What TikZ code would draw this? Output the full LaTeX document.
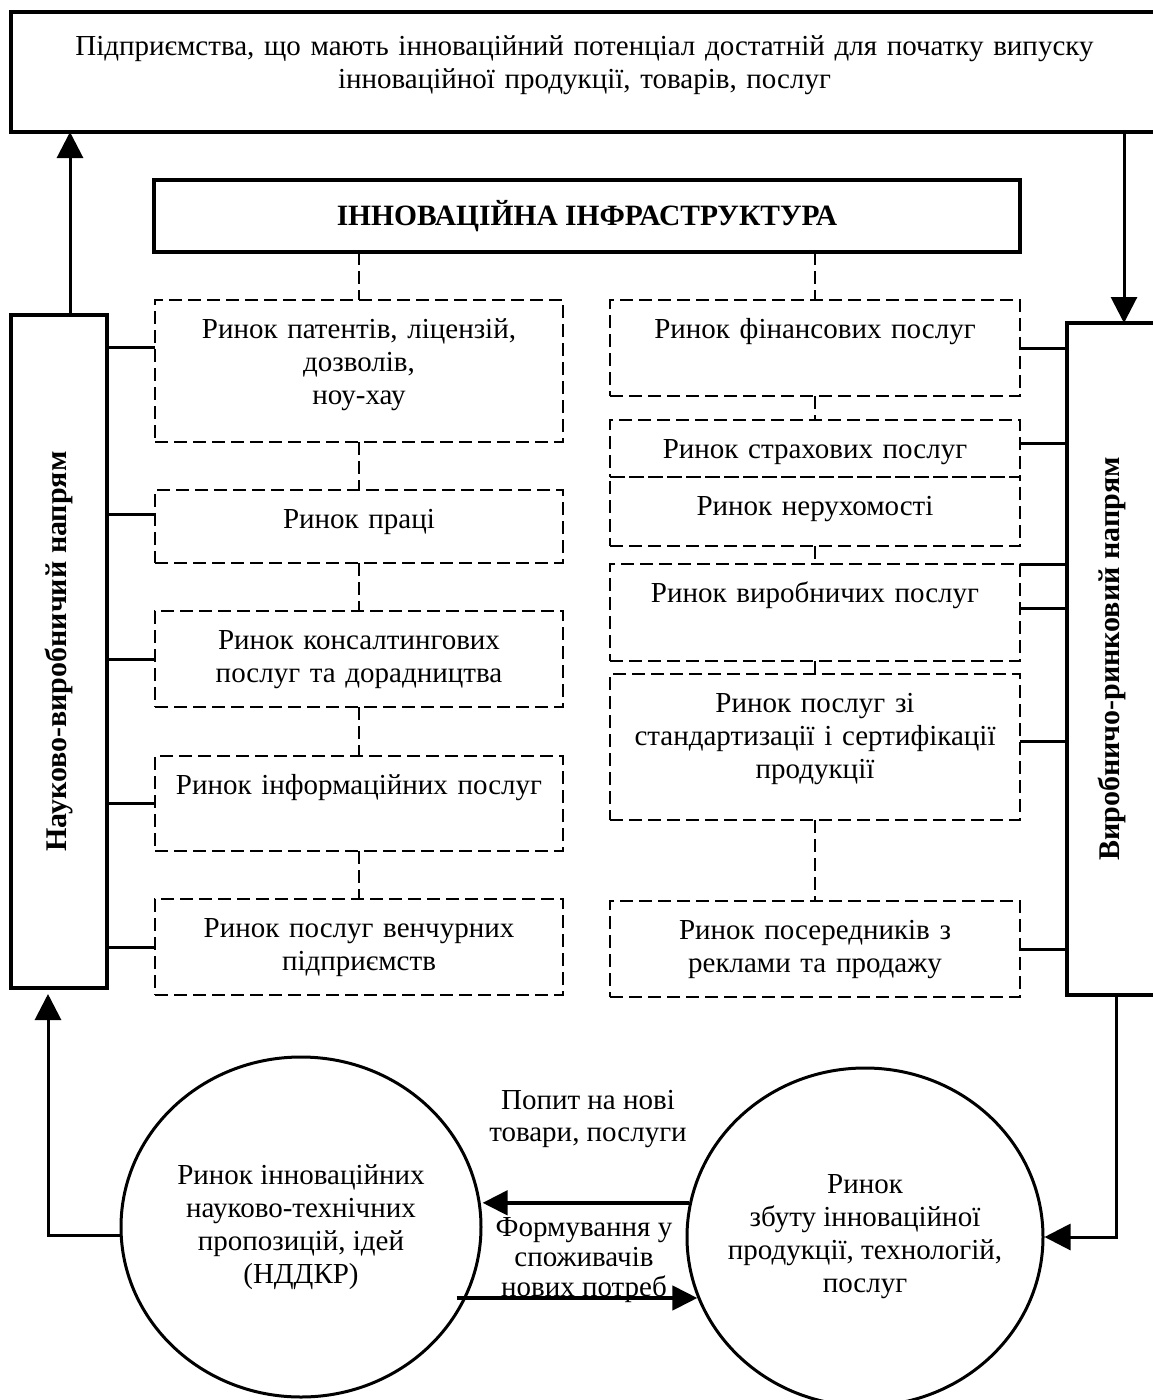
\documentclass[tikz,border=0pt]{standalone}
\usepackage{fontspec}
\setmainfont{Liberation Serif}
\usetikzlibrary{positioning,shapes.geometric,arrows.meta}

\begin{document}
\begin{tikzpicture}[x=1pt,y=-1pt,
    font=\fontsize{29}{33}\selectfont,
    thickbox/.style={rectangle, draw, line width=4.5pt, inner sep=0pt, outer sep=0pt},
    market/.style={rectangle, draw, line width=2.5pt, dash pattern=on 13pt off 6pt, inner sep=0pt, outer sep=0pt, align=center, text width=408pt, text height=38pt},
    rmarket/.style={market, text width=410pt},
    link/.style={line width=3pt},
    dlink/.style={line width=2.5pt, dash pattern=on 13pt off 6pt},
    arr/.style={line width=3pt, -{Triangle[length=26pt,width=26pt]}},
    fat/.style={line width=4.5pt, -{Triangle[length=25pt,width=24pt]}},
    idea/.style={ellipse, draw, line width=3pt, align=center, inner xsep=-18pt, inner ysep=0pt}]

    \useasboundingbox (0,0) rectangle (1152,1400);

    \node[thickbox, anchor=north west, align=center, text width=1147pt, text height=43pt, text depth=77pt] (firms) at (11,12) {Підприємства, що мають інноваційний потенціал достатній для початку випуску\\ інноваційної продукції, товарів, послуг};
    \node[thickbox, anchor=north west, minimum width=866pt, minimum height=72pt, font=\fontsize{29.5}{33}\selectfont\bfseries] (infra) at (154,180) {ІННОВАЦІЙНА ІНФРАСТРУКТУРА};

    \node[thickbox, anchor=north west, minimum width=96pt, minimum height=673pt] (sci) at (11,315) {\rotatebox{90}{\fontsize{30}{33}\selectfont\bfseries Науково-виробничий напрям}};
    \node[thickbox, anchor=north west, minimum width=89pt, minimum height=672pt] (prod) at (1067,323) {\rotatebox{90}{\fontsize{30}{33}\selectfont\bfseries Виробничо-ринковий напрям}};

    \node[market, anchor=north west, text depth=104pt] (pat) at (155,300) {Ринок патентів, ліцензій,\\ дозволів,\\ ноу-хау};
    \node[market, below=48pt of pat, text depth=35pt] (lab) {Ринок праці};
    \node[market, below=48pt of lab, text depth=58pt] (cons) {Ринок консалтингових\\ послуг та дорадництва};
    \node[market, below=49pt of cons, text depth=57pt] (info) {Ринок інформаційних послуг};
    \node[market, below=48pt of info, text depth=58pt] (vent) {Ринок послуг венчурних\\ підприємств};

    \node[rmarket, anchor=north west, text depth=58pt] (fin) at (610,300) {Ринок фінансових послуг};
    \node[rmarket, below=24pt of fin, text depth=19pt] (ins) {Ринок страхових послуг};
    \node[rmarket, below=0pt of ins, text depth=31pt] (est) {Ринок нерухомості};
    \node[rmarket, below=18pt of est, text depth=59pt] (serv) {Ринок виробничих послуг};
    \node[rmarket, below=13pt of serv, text depth=108pt] (std) {Ринок послуг зі\\ стандартизації і сертифікації\\ продукції};
    \node[rmarket, below=81pt of std, text depth=58pt] (med) {Ринок посередників з\\ реклами та продажу};

    \node[idea, minimum width=360pt, minimum height=340pt] (rnd) at (301,1227) {Ринок інноваційних\\ науково-технічних\\ пропозицій, ідей\\ (НДДКР)};
    \node[idea, minimum width=356pt, minimum height=338pt] (sales) at (865,1237) {Ринок\\ збуту інноваційної\\ продукції, технологій,\\ послуг};

    \node[align=center, font=\fontsize{29}{32}\selectfont] (demand) at (588,1119) {Попит на нові\\ товари, послуги};
    \node[align=center, font=\fontsize{29}{30}\selectfont] (needs) at (584,1260) {Формування у\\ споживачів\\ нових потреб};

    \draw[dlink] (infra.south -| pat.north) -- (pat.north);
    \draw[dlink] (pat) -- (lab);
    \draw[dlink] (lab) -- (cons);
    \draw[dlink] (cons) -- (info);
    \draw[dlink] (info) -- (vent);
    \draw[dlink] (infra.south -| fin.north) -- (fin.north);
    \draw[dlink] (fin) -- (ins);
    \draw[dlink] (est) -- (serv);
    \draw[dlink] (serv) -- (std);
    \draw[dlink] (std) -- (med);

    \draw[link] ([yshift=24pt]pat.west) -- ([yshift=24pt]pat.west -| sci.east);
    \draw[link] ([yshift=12pt]lab.west) -- ([yshift=12pt]lab.west -| sci.east);
    \draw[link] (cons.west) -- (cons.west -| sci.east);
    \draw[link] (info.west) -- (info.west -| sci.east);
    \draw[link] (vent.west) -- (vent.west -| sci.east);

    \draw[link] (fin.east) -- (fin.east -| prod.west);
    \draw[link] ([yshift=5pt]ins.east) -- ([yshift=5pt]ins.east -| prod.west);
    \draw[link] (serv.north east) -- (serv.north east -| prod.west);
    \draw[link] ([yshift=4pt]serv.east) -- ([yshift=4pt]serv.east -| prod.west);
    \draw[link] ([yshift=6pt]std.east) -- ([yshift=6pt]std.east -| prod.west);
    \draw[link] (med.east) -- (med.east -| prod.west);

    \draw[arr] ([xshift=11pt]sci.north) -- ([xshift=11pt]sci.north |- firms.south);
    \draw[arr] ([xshift=12.5pt]prod.north |- firms.south) -- ([xshift=12.5pt]prod.north);
    \draw[arr, shorten >=6pt] ([yshift=-8pt]rnd.west) -| ([xshift=-11pt]sci.south);
    \draw[arr] ([xshift=5pt]prod.south) |- (sales.east);

    \draw[fat] (sales.169) -- (sales.169 -| rnd.east);
    \draw[fat] ([xshift=-26pt]sales.200 -| rnd.east) -- (sales.200);
\end{tikzpicture}
\end{document}
